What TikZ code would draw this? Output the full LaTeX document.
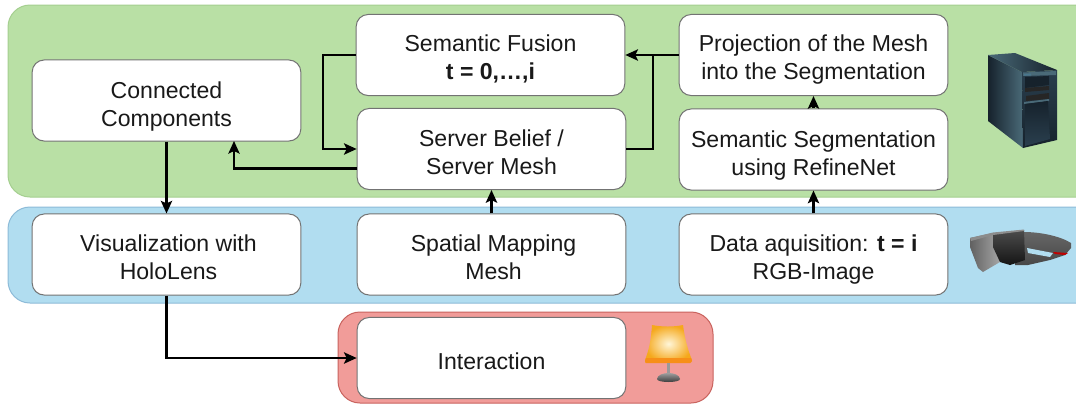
\documentclass[tikz,border=0pt]{standalone}
\usepackage{fontspec}
\setmainfont{Liberation Sans}
\usetikzlibrary{arrows.meta}
\definecolor{pgreen}{HTML}{B9E0A5}
\definecolor{pgreenb}{HTML}{A5CF90}
\definecolor{pblue}{HTML}{B1DDF0}
\definecolor{pblueb}{HTML}{8DBBD8}
\definecolor{pred}{HTML}{F19C99}
\definecolor{predb}{HTML}{C9635E}
\definecolor{srvd}{HTML}{16222C}
\definecolor{srvm}{HTML}{2A3F4E}
\definecolor{srvl}{HTML}{4A6A78}
\definecolor{lampo}{HTML}{F5A81C}
\definecolor{lampy}{HTML}{FFF6D8}
\newcommand{\lineup}[1]{\rule{0pt}{#1pt}}
\newcommand{\nudge}{\hspace*{3pt}}
\tikzset{
 x=0.75pt,y=-0.75pt,
 panel/.style={rounded corners=16.5pt,line width=0.75pt},
 boxn/.style={draw=black!55,fill=white,rounded corners=9pt,line width=0.75pt,minimum width=201.5pt,minimum height=60.8pt,inner sep=0pt,align=center,font=\fontsize{17.3}{21}\selectfont,text=black!90},
 conn/.style={draw=black,line width=1.6pt,-{Stealth[length=9.5pt,width=8.5pt,inset=2pt]}},
 plainline/.style={draw=black,line width=1.6pt},
}
\begin{document}
\begin{tikzpicture}
\useasboundingbox (0,0) rectangle (1076,405);
\fill[white] (0,0) rectangle (1076,405);
\begin{scope}
\clip (0,0) rectangle (1076,405);
\draw[panel,draw=pgreenb,fill=pgreen] (8,5) rectangle (1100,197);
\draw[panel,draw=pblueb,fill=pblue] (8,207) rectangle (1100,303);
\end{scope}
\draw[panel,draw=predb,fill=pred] (338,312) rectangle (713,403);

\node[boxn] (sf) at (490.5,55) {\lineup{17.8}Semantic Fusion\\\textbf{t = 0,…,i}};
\node[boxn] (sb) at (491.5,149) {\lineup{17.8}Server Belief /\\Server Mesh};
\node[boxn] (cc) at (166.5,100.5) {\lineup{22.3}Connected\\Components};
\node[boxn] (pr) at (813.5,55) {\lineup{19.3}Projection of the Mesh\\into the Segmentation};
\node[boxn] (sg) at (813.5,149.5) {\lineup{21.5}Semantic Segmentation\\using RefineNet};
\node[boxn] (vi) at (166.5,254.5) {\lineup{16.3}\nudge Visualization with\\\nudge HoloLens};
\node[boxn] (sm) at (491.5,254.5) {\lineup{16.3}\nudge Spatial Mapping\\\nudge Mesh};
\node[boxn] (da) at (813.5,254.5) {\lineup{20.8}Data aquisition: \textbf{t = i}\\RGB-Image};
\node[boxn] (ia) at (491.5,358) {\lineup{17}Interaction};

\coordinate (sblow) at (357,168.5);
\coordinate (ccin) at (234,141);
\coordinate (jn) at (653,55);
\draw[conn,line join=miter] (sf.west) -- (323,55) |- (sb.west);
\draw[conn,line join=miter] (sblow) -| (ccin);
\draw[plainline,line join=miter] (sb.east) -| (jn);
\draw[conn] (pr.west) -- (sf.east);
\draw[conn] (sg.north) -- (pr.south);
\draw[conn] (da.north) -- (sg.south);
\draw[conn] (sm.north) -- (sb.south);
\draw[conn] (cc.south) -- (vi.north);
\draw[conn,line join=miter] (vi.south) |- (ia.west);

% server
\shade[left color=srvd,right color=srvl] (988,55) -- (1022,72) -- (1023,148) -- (988,121) -- cycle;
\shade[left color=srvl,right color=srvd] (988,55) -- (1015,53) -- (1057,70) -- (1022,72) -- cycle;
\shade[top color=srvm,bottom color=srvd] (1022,72) -- (1057,70) -- (1057,140) -- (1023,148) -- cycle;
\fill[srvl] (1023,72.5) -- (1056,71) -- (1056,75) -- (1023,76) -- cycle;
\fill[srvd] (1025,77) -- (1049,76) -- (1049,85) -- (1025,88) -- cycle;
\fill[black!85] (1025,88) -- (1049,86) -- (1049,90) -- (1025,92) -- cycle;
\fill[black!85] (1026,96) -- (1049,93) -- (1049,99) -- (1026,101) -- cycle;
\fill[srvl] (1024,102) -- (1049,99) -- (1049,101) -- (1024,104) -- cycle;
\shade[top color=srvd,bottom color=srvm] (1025,104) -- (1048,101) -- (1050,139) -- (1025,146) -- cycle;
\fill[cyan!50!black] (1024,74) -- (1031,73.6) -- (1031,75.2) -- (1024,75.6) -- cycle;

% HoloLens
\shade[top color=black!60,bottom color=black!72] (1024,232) .. controls (1040,232) and (1060,236) .. (1071,243) -- (1071,248) -- (1065,255) -- (1050,260) -- (1028,265) -- (1015,265) -- cycle;
\fill[pblue] (1027,248) -- (1053,253) -- (1050,257) -- (1028,253) -- cycle;
\fill[red!75!black] (1053,252) -- (1068,253) -- (1065,255) -- (1055,254) -- cycle;
\shade[left color=black!62,right color=black!35] (970,238) -- (993,233) -- (1000,262) -- (983,272) -- (978,268) -- (970,247) -- cycle;
\shade[top color=black!70,bottom color=black!92] (993,233.5) -- (1024,230) -- (1025,260) -- (1010,265) -- (1000,262) -- (993,247) -- cycle;
\fill[black!45] (970,238) -- (993,232.5) -- (1024,229.5) -- (1024,231) -- (993,235) -- (971,241) -- cycle;

% lamp
\shade[inner color=lampy,outer color=lampo] (652,325) .. controls (662,327) and (674,327) .. (683,325) .. controls (685,340) and (688,350) .. (692,360) -- (691,362.5) -- (645,362.5) -- (645,360) .. controls (649,350) and (651,340) .. (652,325) -- cycle;
\fill[lampo!85!red] (646,358) -- (691,358) -- (692,361) -- (690,363) -- (646,363) -- (645,361) -- cycle;
\fill[black!40] (667,363) rectangle (669.5,373);
\shade[top color=black!30,bottom color=black!80] (657,379) .. controls (658,371) and (679,371) .. (680,379) .. controls (680,383) and (657,383) .. (657,379) -- cycle;
\end{tikzpicture}
\end{document}
